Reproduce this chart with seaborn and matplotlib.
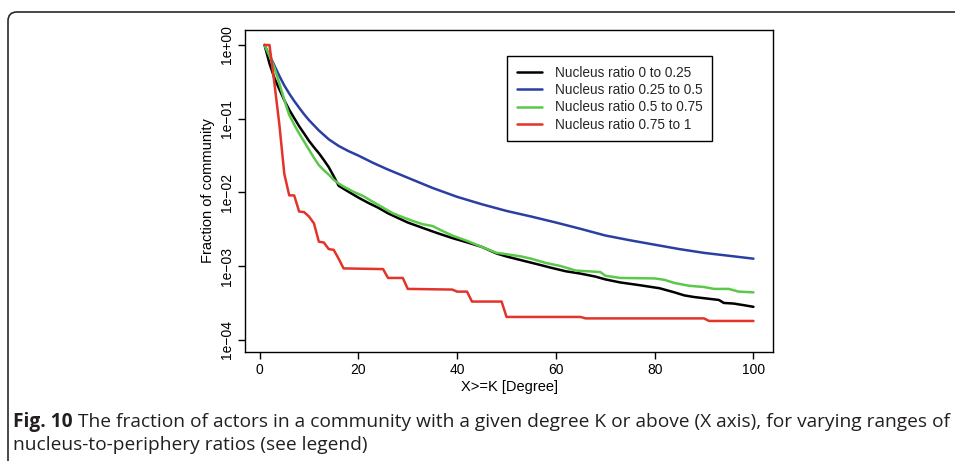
import numpy as np
import pandas as pd
import matplotlib
matplotlib.use("Agg")
import matplotlib.pyplot as plt
import seaborn as sns
from matplotlib.patches import FancyBboxPatch
from matplotlib.transforms import IdentityTransform
from matplotlib.ticker import NullLocator

# ---------------- data ----------------
series_labels = ["Nucleus ratio 0 to 0.25", "Nucleus ratio 0.25 to 0.5",
                 "Nucleus ratio 0.5 to 0.75", "Nucleus ratio 0.75 to 1"]

black_x = [1, 2, 3, 4, 5, 6, 7, 8, 9, 10, 11, 12, 13, 14, 15, 16, 17, 18, 20, 22, 24, 26, 28, 30,
           33, 36, 39, 42, 45, 48, 50, 53, 56, 59, 62, 65, 68, 70, 73, 77, 81, 84, 86, 88, 93, 94,
           96, 98, 100]
black_y = [1.0, 0.56, 0.355, 0.25, 0.178, 0.132, 0.102, 0.079, 0.063, 0.050, 0.041, 0.034, 0.0275,
           0.022, 0.0166, 0.0123, 0.0112, 0.0102, 0.0085, 0.0072, 0.0062, 0.0052, 0.0045, 0.0039,
           0.0033, 0.0028, 0.0024, 0.0021, 0.00182, 0.00148, 0.00135, 0.0012, 0.00107, 0.00095,
           0.00085, 0.00079, 0.00072, 0.00066, 0.0006, 0.00055, 0.0005, 0.00044, 0.0004, 0.00038,
           0.000347, 0.000316, 0.00031, 0.000295, 0.00028]

blue_x = [1, 2, 3, 4, 5, 6, 7, 8, 9, 10, 12, 14, 16, 18, 20, 23, 26, 30, 35, 40, 45, 50, 55, 60,
          65, 70, 75, 80, 85, 90, 95, 100]
blue_y = [1.0, 0.724, 0.525, 0.38, 0.282, 0.219, 0.174, 0.141, 0.115, 0.0955, 0.0692, 0.0525,
          0.0427, 0.0363, 0.0316, 0.0251, 0.0204, 0.0158, 0.0115, 0.0087, 0.0069, 0.0056, 0.0047,
          0.0039, 0.0032, 0.0026, 0.00224, 0.00195, 0.0017, 0.00151, 0.00138, 0.00126]

green_x = [1, 2, 3, 4, 5, 6, 7, 8, 9, 10, 11, 12, 13, 14, 15, 16, 17, 19, 21, 23, 25, 27, 29, 31,
           33, 35, 37, 39, 42, 45, 48, 50, 53, 55, 58, 61, 64, 69, 70, 73, 80, 82, 84, 87, 90, 92,
           95, 97, 100]
green_y = [1.0, 0.71, 0.49, 0.30, 0.18, 0.112, 0.083, 0.063, 0.049, 0.038, 0.0295, 0.0234, 0.020,
           0.0174, 0.0148, 0.0132, 0.012, 0.0102, 0.0089, 0.0074, 0.0062, 0.0052, 0.0046, 0.0041,
           0.0037, 0.0035, 0.0030, 0.0026, 0.0022, 0.00182, 0.00151, 0.00145, 0.00135, 0.00126,
           0.0011, 0.001, 0.00087, 0.00083, 0.00074, 0.00069, 0.00068, 0.00065, 0.00059, 0.00054,
           0.00052, 0.00049, 0.00049, 0.00045, 0.00044]

red_x = [1, 2, 3, 4, 5, 6, 7, 8, 9, 10, 11, 12, 13, 14, 15, 16, 17, 25, 26, 29, 30, 39, 40, 42,
         43, 49, 50, 65, 66, 90, 91, 100]
red_y = [1.0, 1.0, 0.30, 0.083, 0.0178, 0.0091, 0.0091, 0.0055, 0.0054, 0.0047, 0.0038, 0.00214,
         0.00209, 0.0017, 0.00166, 0.00126, 0.00093, 0.00091, 0.00069, 0.00069, 0.00049, 0.00048,
         0.00045, 0.00045, 0.00033, 0.00033, 0.000204, 0.000204, 0.000195, 0.000195, 0.00018,
         0.00018]

x_ticks = [0, 20, 40, 60, 80, 100]
y_ticks = [1e0, 1e-1, 1e-2, 1e-3, 1e-4]
y_tick_labels = ["1e+00", "1e\u221201", "1e\u221202", "1e\u221203", "1e\u221204"]

caption_bold = "Fig. 10"
caption_line1 = "The fraction of actors in a community with a given degree K or above (X axis), for varying ranges of"
caption_line2 = "nucleus-to-periphery ratios (see legend)"

# ---------------- build table ----------------
frames = []
for lab, xs, ys in zip(series_labels, [black_x, blue_x, green_x, red_x],
                       [black_y, blue_y, green_y, red_y]):
    frames.append(pd.DataFrame({"K": xs, "frac": ys, "series": lab}))
df = pd.concat(frames, ignore_index=True)

colors = ["#000000", "#2b3fa3", "#5cc84a", "#e3342a"]
palette = dict(zip(series_labels, colors))

# ---------------- figure ----------------
sns.set_theme(style="ticks")
plt.rcParams["font.family"] = ["Liberation Sans", "DejaVu Sans"]
plt.rcParams["axes.edgecolor"] = "black"

W, H = 955, 461
fig = plt.figure(figsize=(W / 100, H / 100), dpi=100)
fig.patch.set_facecolor("white")

ax_l, ax_r, ax_t, ax_b = 245, 773, 30, 352
ax = fig.add_axes([ax_l / W, 1 - ax_b / H, (ax_r - ax_l) / W, (ax_b - ax_t) / H])

sns.lineplot(data=df, x="K", y="frac", hue="series", hue_order=series_labels,
             palette=palette, estimator=None, sort=False, linewidth=1.8, ax=ax, legend=True)

ax.set_yscale("log")
ax.set_xlim(-2.96, 103.96)
ax.set_ylim(10 ** -4.166, 10 ** 0.2035)
ax.set_xticks(x_ticks)
ax.set_xticklabels([str(v) for v in x_ticks])
ax.set_yticks(y_ticks)
ax.set_yticklabels(y_tick_labels, rotation=90, va="center")
ax.yaxis.set_minor_locator(NullLocator())
ax.tick_params(axis="both", direction="out", length=5, width=1.0, colors="black",
               labelsize=10, pad=3)
ax.tick_params(axis="y", pad=3)
for sp in ax.spines.values():
    sp.set_visible(True)
    sp.set_linewidth(1.0)
    sp.set_color("black")
ax.set_facecolor("white")
ax.grid(False)

ax.set_xlabel("X>=K [Degree]", fontsize=10.5, color="black")
ax.set_ylabel("Fraction of community", fontsize=10.5, color="black")
ax.xaxis.label.set_va("center")
ax.yaxis.label.set_va("center")
ax.xaxis.set_label_coords(0.5, (ax_b - 386.5) / (ax_b - ax_t))
ax.yaxis.set_label_coords((208 - ax_l) / (ax_r - ax_l), 0.5)

handles, labs = ax.get_legend_handles_labels()
leg = ax.legend(handles, labs, loc="upper left",
                bbox_to_anchor=(507 / W, 1 - 56 / H), bbox_transform=fig.transFigure,
                frameon=True, fancybox=False, edgecolor="black", framealpha=1,
                fontsize=9.8, handlelength=1.9, handletextpad=0.9, labelspacing=0.25,
                borderpad=0.7, borderaxespad=0)
leg.get_frame().set_linewidth(1.0)
for ln in leg.get_lines():
    ln.set_linewidth(1.8)

# ---------------- outer rounded border ----------------
border = FancyBboxPatch((8, -60), 1100, (H - 12) + 60,
                        boxstyle="round,pad=0,rounding_size=9",
                        transform=IdentityTransform(), fill=False,
                        edgecolor="#2a2a2a", linewidth=1.2, clip_on=False)
fig.add_artist(border)

# ---------------- caption ----------------
cap_font = ["Open Sans", "DejaVu Sans"]
cap_color = "#231f20"
target_w = 950 - 13
fs = 12.5
r = fig.canvas.get_renderer()
t1 = fig.text(13 / W, 1 - 427 / H, caption_bold, fontweight="bold", family=cap_font,
              fontsize=fs, color=cap_color, va="baseline", ha="left")
t2 = fig.text(0, 1 - 427 / H, caption_line1, family=cap_font, fontsize=fs,
              color=cap_color, va="baseline", ha="left")
t3 = fig.text(13 / W, 1 - 450 / H, caption_line2, family=cap_font, fontsize=fs,
              color=cap_color, va="baseline", ha="left")
for _ in range(3):
    for t in (t1, t2, t3):
        t.set_fontsize(fs)
    e1 = t1.get_window_extent(r)
    gap = 0.26 * fs * 100 / 72
    t2.set_x((e1.x1 + gap) / W)
    e2 = t2.get_window_extent(r)
    total = e2.x1 - 13
    fs = fs * target_w / total

fig.savefig("out.png", dpi=100, facecolor="white")
